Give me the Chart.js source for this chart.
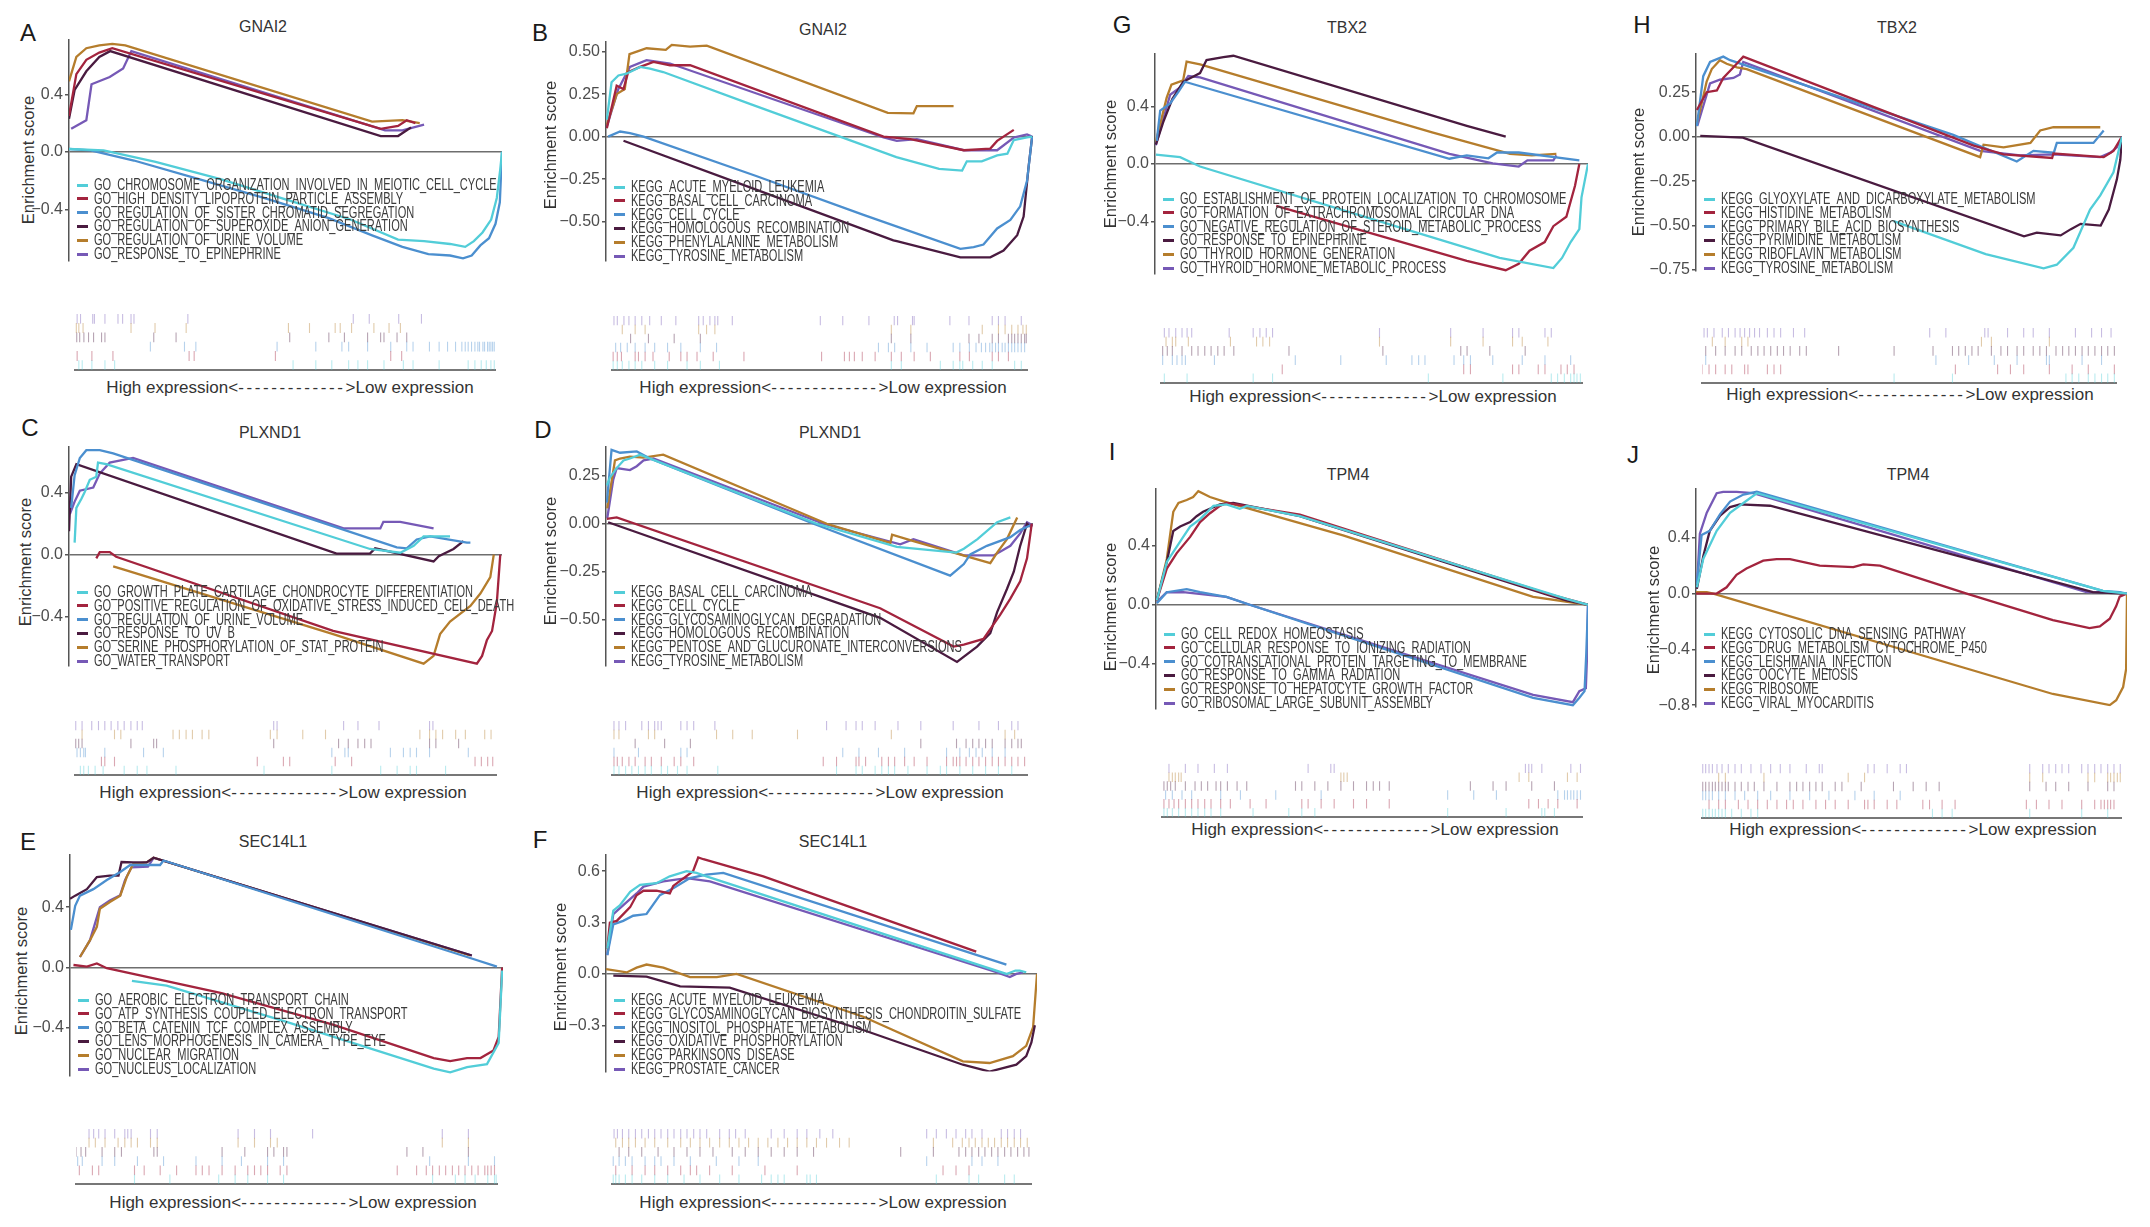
<!DOCTYPE html>
<html>
<head>
<meta charset="utf-8">
<title>GSEA enrichment plots</title>
<script src="https://cdn.jsdelivr.net/npm/chart.js@4.4.0/dist/chart.umd.min.js"></script>
<style>
  body { margin: 0; background: #fff; width: 2150px; height: 1227px; position: relative; overflow: hidden;
         font-family: 'Liberation Sans', Arial, Helvetica, sans-serif; }
  .abs { position: absolute; white-space: nowrap; }
  .letter { font-size: 24px; color: #1a1a1a; transform: translate(-50%, -50%); }
  .gene { font-size: 16px; color: #333; transform: translate(-50%, -50%); }
  .ylab { font-size: 16.5px; color: #333; transform: translate(-50%, -50%) rotate(-90deg); }
  .xlab { font-size: 17px; color: #333; transform: translate(-50%, -50%); }
  .leg-row { position: absolute; left: 0; height: 14px; width: 700px; }
  .leg-mark { position: absolute; left: 0; top: 5.5px; width: 11px; height: 3px; }
  .leg-text { position: absolute; left: 17px; top: 0; font-size: 16px; line-height: 14px; color: #3a3a3a;
              transform: scaleX(0.69); transform-origin: left top; }
</style>
</head>
<body>
<script>
// colours of the six gene sets, in legend order
const setColors = ['#52CDD8', '#A3243E', '#4B8FCF', '#4A1B40', '#B57D2C', '#7659B6'];
const xLabel = 'High expression<------------->Low expression';

// ---------- A: GNAI2, GO ----------
const A_gene = 'GNAI2';
const A_sets = ['GO_CHROMOSOME_ORGANIZATION_INVOLVED_IN_MEIOTIC_CELL_CYCLE', 'GO_HIGH_DENSITY_LIPOPROTEIN_PARTICLE_ASSEMBLY',
  'GO_REGULATION_OF_SISTER_CHROMATID_SEGREGATION', 'GO_REGULATION_OF_SUPEROXIDE_ANION_GENERATION',
  'GO_REGULATION_OF_URINE_VOLUME', 'GO_RESPONSE_TO_EPINEPHRINE'];
const A_yTicks = [-0.4, 0, 0.4];
const A_curves = [
  [[0,0.02],[8,0.01],[20,-0.07],[35,-0.19],[50,-0.33],[65,-0.47],[76,-0.61],[82,-0.62],[88,-0.64],[91.5,-0.66],[93.5,-0.62],[95.5,-0.56],[97.5,-0.47],[98.8,-0.32],[99.6,-0.12],[100,0]],
  [[0,0.25],[1.7,0.54],[4,0.64],[7,0.69],[10,0.72],[72,0.16],[76,0.18],[78,0.22],[80,0.2]],
  [[0,0.02],[5,0.01],[15,-0.06],[30,-0.19],[45,-0.32],[60,-0.46],[70,-0.58],[77,-0.66],[83,-0.71],[88,-0.72],[91,-0.74],[93,-0.72],[95,-0.65],[97,-0.6],[98.5,-0.5],[99.5,-0.35],[100,0]],
  [[0,0.23],[1.3,0.43],[4,0.56],[7,0.66],[9.5,0.7],[72,0.11],[76,0.11],[78,0.15],[79,0.17]],
  [[0,0.49],[1.7,0.66],[4,0.72],[7,0.74],[10,0.75],[13,0.74],[70,0.21],[77,0.22],[81,0.2]],
  [[0.5,0.16],[4,0.22],[5.2,0.47],[9.4,0.52],[12.5,0.58],[14.4,0.7],[73,0.15],[77,0.15],[82,0.19]]
];
const A_hits = [
  [0.9,1.7,4,7.1,9.4,51.8,57.2,61,65,67.2,69.5,73.4,78,80.3,86.5,93.4,95,96.5,97.7,98.8,99.6],
  [0.5,4,9,27.1,28.3,47.6,75,77.6],
  [17.9,26,28.7,48,57.2,63.4,65,69.5,75,78.8,80.3,84.2,86.5,88.5,90.4,91.9,92.7,93.4,94.2,95,95.7,96.1,96.9,97.3,98,98.4,98.8,99.2,99.6],
  [0.4,1.1,2.1,3.2,4.4,6.3,7.1,18.7,24,51,60.3,64,69.5,72.6,73.4,76.5,78.8],
  [0.3,0.9,1.9,13.3,19,26.4,50.7,55.7,61.8,63,65.7,71,74.6,77.3],
  [0.5,1.3,4.2,4.6,7.1,10.2,11.3,13.3,14,26.8,66.1,69.9,76.9,82.3]
];

// ---------- B: GNAI2, KEGG ----------
const B_gene = 'GNAI2';
const B_sets = ['KEGG_ACUTE_MYELOID_LEUKEMIA', 'KEGG_BASAL_CELL_CARCINOMA', 'KEGG_CELL_CYCLE',
  'KEGG_HOMOLOGOUS_RECOMBINATION', 'KEGG_PHENYLALANINE_METABOLISM', 'KEGG_TYROSINE_METABOLISM'];
const B_yTicks = [-0.5, -0.25, 0, 0.25, 0.5];
const B_curves = [
  [[0.2,0.1],[1.3,0.32],[2.9,0.36],[4.8,0.37],[8,0.41],[10.3,0.4],[13.4,0.38],[34,0.19],[54.8,0],[68,-0.12],[78,-0.19],[83.4,-0.2],[84.5,-0.145],[88,-0.145],[91.6,-0.11],[94,-0.1],[95.5,-0.02],[98.6,-0.005],[99.8,0]],
  [[0.2,0.05],[2.5,0.3],[4.1,0.28],[5.2,0.38],[8,0.41],[11.1,0.44],[15,0.42],[19.7,0.42],[65,0],[71.3,-0.015],[83.8,-0.08],[90,-0.07],[91.6,-0.025],[95.5,0.04]],
  [[0.5,0],[3.3,0.03],[5.6,0.02],[8.8,0],[35,-0.23],[60.3,-0.46],[83,-0.66],[86.1,-0.65],[88.4,-0.635],[91.6,-0.54],[94.7,-0.49],[97,-0.41],[98.6,-0.26],[99.8,0]],
  [[4.1,-0.024],[35,-0.31],[67.3,-0.61],[68.1,-0.615],[83,-0.71],[90,-0.71],[93.1,-0.67],[96.3,-0.58],[97.8,-0.47],[99,-0.17],[99.8,0]],
  [[0.2,0.07],[2.5,0.25],[4.4,0.28],[5.5,0.485],[7.2,0.5],[9.5,0.52],[14,0.51],[15.4,0.54],[19.7,0.53],[23.6,0.535],[66,0.14],[72,0.137],[72.8,0.18],[81.4,0.18]],
  [[0.2,0.06],[2.9,0.28],[5.6,0.41],[9.5,0.45],[15,0.43],[65,-0.005],[68.1,-0.025],[72.8,-0.015],[83.8,-0.08],[91.6,-0.08],[95.5,-0.005],[98.6,0.013],[99.8,0]]
];
const B_hits = [
  [0.3,1.3,2.5,4.1,5.6,7.2,10.3,13.4,18.1,21.3,25.9,67.3,69.7,79.1,82.2,83.8,84.5,86.9,89.2,91.6,97,98.6],
  [0.3,1.3,2.3,5.6,6.4,8,9.9,13.8,16.6,18.1,20.5,24.4,31.8,50.5,56,57.2,58.4,60.3,63.4,67.3,69.7,72.8,76.7,83.8,86.1,91.6,93.1,95.5],
  [0.9,2.1,3.7,5.6,8,10.3,13.4,16.6,21.3,25.2,64.2,66.6,68.1,72,75.9,82.2,83.8,86.1,87.7,89,90,91,91.6,92.4,93.1,94,94.7,95.5,96.3,97,97.8,98.6,99.4],
  [4.5,8.8,15,21.3,67.3,72,86,88.4,91.6,93.1,95.5,96.3,97,97.8,98.6,99.4,99.8],
  [2.5,5.6,8,20.9,22.8,24.8,67.3,72,89.2,93.1,94.7,96.3,97.8,99,99.8],
  [0.5,1.3,2.9,4.1,5.6,7.2,9.1,11.9,15.4,20.9,22,23.6,24.8,25.5,29,50.2,55.6,61.9,68,68.8,72.4,72.8,81.4,86,91.6,93.1,94.7,98.6]
];

// ---------- C: PLXND1, GO ----------
const C_gene = 'PLXND1';
const C_sets = ['GO_GROWTH_PLATE_CARTILAGE_CHONDROCYTE_DIFFERENTIATION', 'GO_POSITIVE_REGULATION_OF_OXIDATIVE_STRESS_INDUCED_CELL_DEATH',
  'GO_REGULATION_OF_URINE_VOLUME', 'GO_RESPONSE_TO_UV_B', 'GO_SERINE_PHOSPHORYLATION_OF_STAT_PROTEIN', 'GO_WATER_TRANSPORT'];
const C_yTicks = [-0.4, 0, 0.4];
const C_curves = [
  [[1.3,0.077],[1.7,0.3],[2.9,0.36],[3.6,0.4],[4.8,0.48],[6.3,0.5],[6.7,0.59],[8.6,0.58],[69.5,0.036],[76.5,0.012],[79.6,0.056],[81.9,0.117],[88,0.117]],
  [[6.3,-0.024],[7.1,0.016],[9.4,0.016],[10.9,-0.014],[61,-0.49],[94.2,-0.7],[95.4,-0.65],[96.5,-0.55],[97.7,-0.49],[98.8,-0.31],[99.6,0]],
  [[0.5,0.3],[1.3,0.51],[2.5,0.62],[4,0.67],[7.1,0.67],[10.2,0.65],[75.7,0.046],[78,0.04],[80.3,0.097],[83.4,0.117],[91.9,0.077],[92.7,0.077]],
  [[0,0.15],[0.5,0.5],[1.7,0.58],[61.8,0.006],[69.5,0.006],[70.7,0.04],[84.2,-0.044],[85.4,-0.01],[88.8,0.036],[91.1,0.087]],
  [[10.2,-0.075],[12.5,-0.095],[61,-0.51],[81.9,-0.7],[84.2,-0.65],[85.7,-0.51],[88,-0.43],[92.7,-0.33],[95,-0.25],[97.3,-0.145],[98.1,0]],
  [[0.2,0.26],[1.3,0.34],[2.5,0.41],[5.6,0.43],[7.1,0.52],[9.4,0.59],[14.8,0.62],[63.4,0.168],[71.9,0.168],[72.6,0.21],[76.5,0.21],[84.2,0.168]]
];
const C_hits = [
  [1.3,2.1,3.2,4.8,6.7,11.7,14.8,17.1,24,44.9,61,72.6,76.5,79.6,81.1,88],
  [6.3,7.1,9.4,43.3,49.5,51,61.8,65.7,95,96.5,98,99.2],
  [0.5,1.3,2.1,2.5,7.1,16.3,21,61,64.1,64.9,74.9,78,79.6,81.1,84.2,93.4],
  [0.2,0.9,1.7,13.3,18.7,19.4,47.2,62.6,64.9,67.2,68.8,70.3,84.2,85.7,91.1],
  [1.7,9.4,10.9,23.3,24.8,26.4,27.9,30.2,31.8,46.4,48,54.1,59.5,81.9,84.2,85.7,87.3,90.4,92.7,97.3,98.8],
  [0.2,1.7,4,5.6,7.1,8.6,10.2,11.7,13.3,14.8,16,47.2,48,63.8,67.2,72.2,84.2,85]
];

// ---------- D: PLXND1, KEGG ----------
const D_gene = 'PLXND1';
const D_sets = ['KEGG_BASAL_CELL_CARCINOMA', 'KEGG_CELL_CYCLE', 'KEGG_GLYCOSAMINOGLYCAN_DEGRADATION',
  'KEGG_HOMOLOGOUS_RECOMBINATION', 'KEGG_PENTOSE_AND_GLUCURONATE_INTERCONVERSIONS', 'KEGG_TYROSINE_METABOLISM'];
const D_yTicks = [-0.5, -0.25, 0, 0.25];
const D_curves = [
  [[0.2,0.2],[0.9,0.24],[2.5,0.29],[4.1,0.33],[5.6,0.34],[8,0.36],[49.4,0],[68.1,-0.12],[82,-0.15],[83.8,-0.13],[87,-0.08],[91.6,0.008],[94.7,0.033]],
  [[0.2,0.025],[2.5,0.033],[64.2,-0.44],[81.4,-0.64],[83.8,-0.63],[88.4,-0.6],[92.3,-0.475],[94.7,-0.39],[97,-0.3],[98.6,-0.18],[99.4,-0.05],[99.7,0]],
  [[0.2,0.11],[1.3,0.385],[3.3,0.37],[7.2,0.377],[10.3,0.34],[48.6,0],[80.6,-0.27],[82.2,-0.24],[83.8,-0.21],[85.3,-0.16],[89.2,-0.115],[94.7,-0.07],[97,-0.033],[99.4,-0.008]],
  [[0.5,0.008],[64.2,-0.49],[82.2,-0.72],[86.9,-0.64],[90,-0.57],[91.6,-0.46],[93.9,-0.34],[95.5,-0.25],[97,-0.115],[98.6,0],[99.4,-0.015]],
  [[0.3,0.08],[2.1,0.33],[3.3,0.34],[5.6,0.35],[8.8,0.345],[13.4,0.36],[51.7,0],[66.6,-0.1],[67,-0.057],[72,-0.09],[90,-0.205],[91.6,-0.15],[93.9,-0.08],[96.3,0.033]],
  [[0.3,0.03],[1.7,0.23],[2.5,0.29],[5.6,0.28],[7.2,0.3],[8.8,0.33],[11.1,0.34],[50.9,0],[68.9,-0.107],[72,-0.08],[83.8,-0.165],[90.8,-0.165],[94.7,-0.115],[97,-0.05],[98.6,0.008],[100,-0.01]]
];
const D_hits = [
  [0.5,1.7,3.3,4.8,6.4,8,9.5,11.9,13.4,15.8,18.1,25.5,54.1,58.8,60.3,63.4,65,66.6,68.1,71.3,75.9,79.1,80.6,83.8,86.9,90,93.1,96.3],
  [0.5,1.3,2.5,4.1,5.6,8,9.5,11.9,15,16.6,19.7,50.9,54.1,58.8,59.5,61.1,65,66.6,68.1,70.5,72.8,75.9,80.6,82.2,83,83.8,85.3,86.9,88.4,90,91.6,93.1,94.7,96.3,97.8,99.4],
  [0.5,6.4,16.6,18.1,55.6,59.5,64.2,70.5,80.6,83.8,86.1,87.7,89.2,91.6,94.7],
  [5.6,12.7,18.9,74.4,83,85.3,86.9,88.4,90,91.6,94.7,96.3,97.8,98.6],
  [0.5,1.7,8.8,10.3,25.2,29.1,33.8,44.7,67.3,94.7,97],
  [0.5,1.7,3.3,7.2,8.8,10.3,11.1,11.9,16.6,18.1,19.7,24.8,51.7,56.4,58.8,60.3,63.4,68.9,74.4,82.2,88.4,93.1,96.3,97.8]
];

// ---------- E: SEC14L1, GO ----------
const E_gene = 'SEC14L1';
const E_sets = ['GO_AEROBIC_ELECTRON_TRANSPORT_CHAIN', 'GO_ATP_SYNTHESIS_COUPLED_ELECTRON_TRANSPORT',
  'GO_BETA_CATENIN_TCF_COMPLEX_ASSEMBLY', 'GO_LENS_MORPHOGENESIS_IN_CAMERA_TYPE_EYE', 'GO_NUCLEAR_MIGRATION', 'GO_NUCLEUS_LOCALIZATION'];
const E_yTicks = [-0.4, 0, 0.4];
const E_curves = [
  [[14.3,-0.088],[22.3,-0.12],[50,-0.36],[84,-0.67],[87.8,-0.695],[91.7,-0.66],[96.3,-0.64],[99,-0.5],[99.8,-0.02]],
  [[0.8,0.017],[3.9,0.006],[6.2,0.027],[8.5,-0.004],[35,-0.17],[60.9,-0.38],[84,-0.6],[87.8,-0.62],[91.7,-0.6],[94.8,-0.6],[97.8,-0.55],[99,-0.46],[99.8,0]],
  [[0.2,0.25],[1.2,0.41],[2.3,0.477],[5.4,0.52],[8.5,0.58],[11.6,0.634],[13.9,0.68],[16.9,0.68],[20.8,0.68],[21.6,0.71],[91.7,0.07],[98.6,0.006]],
  [[0,0.456],[1.2,0.477],[3.9,0.52],[6.2,0.6],[9.2,0.61],[11.2,0.61],[11.9,0.7],[14.6,0.697],[17.7,0.697],[19.3,0.728],[91.7,0.09],[92.8,0.08]],
  [[2.3,0.07],[4.6,0.18],[6.2,0.27],[6.9,0.39],[9.2,0.435],[11.6,0.477],[13.1,0.6],[14.6,0.686],[17.7,0.697],[19.3,0.728],[92.4,0.08]],
  [[2.3,0.07],[4.6,0.18],[6.9,0.4],[9.2,0.445],[11.6,0.48],[12.7,0.58],[14.2,0.665],[18,0.67],[19.3,0.728],[92.8,0.08]]
];
const E_hits = [
  [13.9,22.3,33.9,37.8,40.8,45.5,49.3,84.7,90.1,92.4,94.8,97.8,99.4,99.8],
  [0.8,3.9,5.4,13.9,16.2,20,23.9,28.5,30,31.6,34.7,37.8,40.8,42.4,43.9,45.5,48.5,50.1,76.3,80.9,83.2,84.7,86.3,87.8,89.4,90.9,92.4,94,95.5,97.1,97.8,98.6,99.4],
  [0.4,1.5,6.2,9.2,14.6,20.8,28.5,34.7,39.3,45.5,49.3,84,93.2,99.4],
  [0,1.2,2.3,6.2,9.2,10.8,18.5,19.3,34.7,40.1,45.5,47,49.3,50.1,78.6,82.4,93.2],
  [3.1,4.6,6.9,10,11.6,13.1,14.6,17.7,19.3,38.5,42.4,46.2,47.8,87,93.2],
  [3.1,4.2,5.4,6.9,9.2,11.6,12.3,13.1,17.7,19.3,38.5,42.4,46.2,56.2,87,93.2]
];

// ---------- F: SEC14L1, KEGG ----------
const F_gene = 'SEC14L1';
const F_sets = ['KEGG_ACUTE_MYELOID_LEUKEMIA', 'KEGG_GLYCOSAMINOGLYCAN_BIOSYNTHESIS_CHONDROITIN_SULFATE',
  'KEGG_INOSITOL_PHOSPHATE_METABOLISM', 'KEGG_OXIDATIVE_PHOSPHORYLATION', 'KEGG_PARKINSONS_DISEASE', 'KEGG_PROSTATE_CANCER'];
const F_yTicks = [-0.3, 0, 0.3, 0.6];
const F_curves = [
  [[0.3,0.147],[1.7,0.37],[3.2,0.4],[5.6,0.48],[7.9,0.52],[11.7,0.53],[14.8,0.57],[18.7,0.6],[21,0.59],[23.3,0.57],[92.9,0],[95,0.02],[96,0.02],[97.5,0.01]],
  [[0.3,0.147],[0.9,0.3],[2.5,0.31],[5.6,0.39],[7.1,0.46],[8.7,0.486],[11.7,0.486],[14.8,0.47],[15.6,0.514],[20.2,0.6],[21.4,0.68],[22.6,0.67],[36.5,0.57],[85.9,0.13]],
  [[0.3,0.11],[1.7,0.29],[4,0.31],[6.3,0.34],[9.4,0.35],[12.5,0.46],[15.6,0.5],[19.5,0.56],[23.3,0.58],[27.2,0.59],[92.9,0.055]],
  [[1.7,-0.01],[9.4,-0.015],[17.2,-0.073],[28.7,-0.08],[60,-0.33],[82.8,-0.53],[89,-0.57],[95.2,-0.53],[97.5,-0.48],[98.7,-0.4],[99.5,-0.3]],
  [[0,0.028],[4.8,0.009],[7.1,0.037],[9.4,0.055],[13.3,0.037],[19.5,-0.018],[25.7,-0.018],[30.3,0],[59.7,-0.25],[82.8,-0.51],[89,-0.52],[94.4,-0.48],[97.5,-0.42],[99.1,-0.31],[100,0]],
  [[0.3,0.11],[1.7,0.35],[4.8,0.42],[7.1,0.47],[8.7,0.51],[13.3,0.54],[18.7,0.56],[24.1,0.54],[90.6,0.01],[93.7,-0.018],[95.2,0],[96.8,0.009]]
];
const F_hits = [
  [0.3,0.9,1.7,3.2,4.8,7.1,10.2,13.3,17.2,21,25.7,30.3,35.7,38,39.6,41.1,46.5,47.3,48.8,77.4,85.2,87.5,93.7,96],
  [0.9,4.8,7.9,10.2,13.3,16.4,18.7,20.2,23.3,28.7,36.5,44.2,79,82.1,85.2],
  [0.3,1.7,3.2,4.8,7.9,10.2,11.7,14.8,18.7,24.9,30.3,34.9,75.1,85.9,88.3,92.1],
  [1.7,4,7.1,11,14.8,17.9,21,24.1,28.7,31.8,34.9,38,41.1,44.2,48.1,68.9,76.7,82.8,84.4,85.9,87.5,89,90.6,92.1,93.7,95.2,96.8,98.3,99.5],
  [0.9,2.5,4,5.6,7.9,10.2,13.3,16.4,18.7,21,23.3,25.7,28,30.3,32.6,34.9,37.2,39.6,41.9,44.2,46.5,48.8,51.2,54.3,56.6,76.7,81.3,83.6,85.2,86.7,88.3,89.8,91.3,92.9,94.4,96,97.5,99.1],
  [0.5,1.3,2.5,4,5.6,7.1,8.7,10.2,11.7,13.3,14.8,16.4,17.9,19.5,21,22.6,25.7,28,29.5,31.8,38,41.1,44.2,46.5,49.6,52.7,75.1,77.4,79.8,82.1,84.4,85.9,88.3,92.9,94.4,96,97.5]
];

// ---------- G: TBX2, GO ----------
const G_gene = 'TBX2';
const G_sets = ['GO_ESTABLISHMENT_OF_PROTEIN_LOCALIZATION_TO_CHROMOSOME', 'GO_FORMATION_OF_EXTRACHROMOSOMAL_CIRCULAR_DNA',
  'GO_NEGATIVE_REGULATION_OF_STEROID_METABOLIC_PROCESS', 'GO_RESPONSE_TO_EPINEPHRINE', 'GO_THYROID_HORMONE_GENERATION',
  'GO_THYROID_HORMONE_METABOLIC_PROCESS'];
const G_yTicks = [-0.4, 0, 0.4];
const G_curves = [
  [[0.2,0.065],[5.8,0.048],[10.4,-0.017],[50,-0.38],[79.6,-0.65],[92,-0.72],[94,-0.65],[96,-0.54],[98,-0.45],[98.5,-0.23],[100,0]],
  [[28,-0.29],[72,-0.67],[81,-0.735],[84,-0.69],[86.5,-0.6],[90,-0.54],[92,-0.43],[95,-0.365],[97,-0.15],[98,0]],
  [[0.4,0.16],[1.2,0.37],[3.5,0.42],[5.4,0.5],[6.9,0.57],[68,0.037],[72,0.06],[77,0.04],[79,0.08],[84,0.08],[98,0.026]],
  [[0.2,0.135],[1.9,0.29],[4,0.45],[6.5,0.57],[10.4,0.63],[11.9,0.72],[15.8,0.74],[18.1,0.75],[72,0.265],[81,0.19]],
  [[0.2,0.155],[2.7,0.46],[3.8,0.55],[6.5,0.58],[7.3,0.71],[10.4,0.69],[64,0.22],[82,0.07],[87,0.06],[92.7,0.07]],
  [[0.2,0.13],[3.5,0.48],[5.8,0.53],[7.7,0.61],[10.4,0.6],[68,0.07],[78,0.005],[84,-0.017],[86,0.026],[92,0.026],[92.7,0.06]]
];
const G_hits = [
  [0.8,6.2,21.9,26.5,63.5,81.2,92.7,94.2,95.8,97.3,98.1,98.8,99.6],
  [28.8,71.9,73.5,83.5,85,89.6,91.2,95,96.5,98.1],
  [0.4,2.7,3.8,5,5.8,12.7,31.9,42.7,53.5,59.6,61.2,62.7,69.6,71.9,73.5,78.8,85.8,91.2,97.3],
  [0.4,1.5,2.7,5,7.3,8.8,10.4,11.9,13.5,15,17.3,30.4,52.7,71.2,72.7,78.1,86.5],
  [1.2,2.7,3.5,6.5,16.5,22.7,24.2,25.8,51.9,68.8,76.5,83.5,85.8,91.9],
  [0.8,1.9,3.5,5,6.2,7.3,16.2,21.9,23.5,25,26.5,51.9,68.8,76.5,83.5,85,91.2,92.7]
];

// ---------- H: TBX2, KEGG ----------
const H_gene = 'TBX2';
const H_sets = ['KEGG_GLYOXYLATE_AND_DICARBOXYLATE_METABOLISM', 'KEGG_HISTIDINE_METABOLISM', 'KEGG_PRIMARY_BILE_ACID_BIOSYNTHESIS',
  'KEGG_PYRIMIDINE_METABOLISM', 'KEGG_RIBOFLAVIN_METABOLISM', 'KEGG_TYROSINE_METABOLISM'];
const H_yTicks = [-0.75, -0.5, -0.25, 0, 0.25];
const H_curves = [
  [[46.4,-0.475],[68,-0.66],[81.6,-0.74],[84.7,-0.72],[88.6,-0.625],[92.5,-0.41],[94.9,-0.33],[98,-0.2],[99.2,-0.08],[100,0]],
  [[0.2,0.15],[2.5,0.25],[4.9,0.26],[6.4,0.33],[8.8,0.39],[11.1,0.45],[65.2,-0.05],[72.2,-0.1],[83.6,-0.12],[83.9,-0.095],[95.7,-0.115],[98,-0.08],[100,0]],
  [[0.2,0.06],[1.7,0.34],[3.3,0.42],[6.4,0.45],[8,0.43],[60.4,0.01],[75.3,-0.14],[79.2,-0.08],[84,-0.09],[84.7,-0.035],[93.3,-0.035],[95.7,0.035]],
  [[1,0.004],[11,-0.005],[77,-0.56],[80,-0.54],[85.6,-0.555],[88,-0.52],[90.3,-0.49],[95,-0.5],[96.9,-0.41],[98.8,-0.24],[99.6,-0.13],[100,0]],
  [[0.3,0.08],[2.5,0.31],[3.7,0.38],[5.6,0.43],[7.2,0.41],[9.6,0.39],[11.9,0.38],[66.7,-0.115],[67.5,-0.045],[72.2,-0.06],[78.5,-0.035],[80.8,0.035],[83.9,0.053],[94.9,0.053]],
  [[0.3,0.06],[3.3,0.3],[5.6,0.32],[8.8,0.33],[10.3,0.35],[11.1,0.42],[66.7,-0.08],[76.1,-0.105],[83.9,-0.1],[94.9,-0.115],[97.3,-0.09],[98.8,-0.06],[100,0]]
];
const H_hits = [
  [46.4,60.5,87.9,89.4,91,93.3,94.9,96.5,98,99.6],
  [0,1.7,3.3,5.6,7.2,10.3,11.1,15.8,17.4,19,61.2,71.4,74.5,77.7,83.9,89.4,93.3,99.6],
  [0.9,56.5,64.4,70.6,76.1,83.2,83.9,91.8,96.5],
  [0.9,3.3,5.6,8,9.6,11.9,13.5,15,16.6,18.2,19.7,21.3,23.6,25.2,33,46.4,55.8,60.5,62,63.6,65.2,66.7,69.9,72.2,73.8,76.1,77.7,80,81.6,83.2,85.5,87.1,88.6,90.2,91.8,93.3,94.9,96.5,98,99.6],
  [2.5,5.6,9.6,11.1,67.5,69.9,83.9],
  [0.5,1.3,2.9,4.9,6.4,8,9.2,10.3,11.5,12.7,13.9,15.8,17.4,19,22.1,24.8,55,58.9,68.3,69.1,73.8,77.7,80,83.9,90.2,94.1,96.5,98.8]
];

// ---------- I: TPM4, GO ----------
const I_gene = 'TPM4';
const I_sets = ['GO_CELL_REDOX_HOMEOSTASIS', 'GO_CELLULAR_RESPONSE_TO_IONIZING_RADIATION', 'GO_COTRANSLATIONAL_PROTEIN_TARGETING_TO_MEMBRANE',
  'GO_RESPONSE_TO_GAMMA_RADIATION', 'GO_RESPONSE_TO_HEPATOCYTE_GROWTH_FACTOR', 'GO_RIBOSOMAL_LARGE_SUBUNIT_ASSEMBLY'];
const I_yTicks = [-0.4, 0, 0.4];
const I_curves = [
  [[0.2,0.03],[2.5,0.29],[6.3,0.46],[7.9,0.53],[10.2,0.58],[13.3,0.67],[16.3,0.68],[19.4,0.65],[21,0.67],[33.3,0.6],[95,0.04],[100,0]],
  [[0.2,0.03],[2.5,0.245],[4.8,0.35],[7.9,0.46],[10.2,0.56],[12.5,0.62],[14.8,0.67],[16.3,0.69],[33.3,0.61],[91.1,0.07],[95,0.04],[100,0]],
  [[0.2,0.01],[2.5,0.085],[7.1,0.106],[10.2,0.085],[16.3,0.053],[21.7,0],[87.3,-0.63],[96.5,-0.68],[98,-0.63],[99.2,-0.585],[99.6,-0.33],[100,0]],
  [[0.2,0.03],[2.5,0.29],[4,0.5],[5.6,0.53],[7.9,0.56],[9.4,0.6],[10.9,0.63],[14.8,0.68],[17.9,0.69],[33.3,0.6],[91.1,0.064],[95,0.03],[100,0]],
  [[0.2,0.03],[2.5,0.31],[4,0.63],[5.2,0.69],[7.1,0.71],[8.6,0.73],[9.8,0.77],[12.5,0.73],[15.6,0.7],[43.3,0.47],[87.3,0.053],[100,0]],
  [[0.2,0.02],[2.5,0.085],[6.3,0.085],[16.3,0.053],[21.7,0],[87.3,-0.61],[96.5,-0.66],[98,-0.585],[99.5,-0.565],[99.8,-0.33],[100,0]]
];
const I_hits = [
  [0.5,1.3,2.5,4,5.6,7.1,8.6,10.2,11.7,14,21.7,30.2,33.3,36.4,68,81.9,90.4,91.1,93.4],
  [0.5,1.7,2.9,4,5.6,7.1,8.6,10.2,11.7,14,16.3,21,24.8,33.3,34.8,37.9,41,45.6,48.7,54.1,87.3,89.6,91.9,94.2,98.8],
  [0.9,2.5,4.8,7.1,14,18.7,27.1,37.9,68,74.2,79.6,94.2,95.8,96.5,97.3,98,98.8,99.6],
  [0.5,1.3,2.1,3.2,5.6,7.9,9.4,10.9,12.9,14,15.6,17.9,20.2,31.8,33.3,36.4,39.5,42.6,45.6,48.7,50.3,51.8,54.1,73.4,78.8,81.9,88,93.4],
  [1.7,2.5,3.2,4,4.6,42.6,43.3,44.1,85,87.3,96.5,98.8],
  [1.7,5.6,8.6,12.5,15.6,34.8,40.2,41,86.5,87.3,88,90.4,97.3,99.6]
];

// ---------- J: TPM4, KEGG ----------
const J_gene = 'TPM4';
const J_sets = ['KEGG_CYTOSOLIC_DNA_SENSING_PATHWAY', 'KEGG_DRUG_METABOLISM_CYTOCHROME_P450', 'KEGG_LEISHMANIA_INFECTION',
  'KEGG_OOCYTE_MEIOSIS', 'KEGG_RIBOSOME', 'KEGG_VIRAL_MYOCARDITIS'];
const J_yTicks = [-0.8, -0.4, 0, 0.4];
const J_curves = [
  [[0.2,0.045],[1.7,0.25],[4.8,0.45],[7.9,0.58],[11,0.65],[14.1,0.72],[94.4,0.02],[100,0]],
  [[0,0],[4.8,0],[7.1,0.045],[9.4,0.135],[11.7,0.18],[15.6,0.236],[18.7,0.247],[21.8,0.247],[28.7,0.2],[36.5,0.19],[38.8,0.21],[42.7,0.2],[62.8,0],[82.8,-0.19],[91.3,-0.247],[93.7,-0.236],[96,-0.18],[97.5,-0.09],[98.3,-0.022],[100,0]],
  [[0.2,0.07],[1.3,0.42],[3.2,0.45],[5.6,0.57],[7.9,0.66],[11,0.71],[14.1,0.73],[94.4,0.02],[98.3,0.01],[100,0]],
  [[0.2,0.034],[1.7,0.27],[3.2,0.45],[5.6,0.56],[7.9,0.62],[10.2,0.64],[17.2,0.63],[92.1,0.01],[99.1,0]],
  [[0,0.011],[2.5,0.011],[4,0],[82.8,-0.72],[96,-0.8],[97.5,-0.765],[99.1,-0.67],[99.8,-0.54],[100,0]],
  [[0.2,0.045],[0.9,0.43],[2.5,0.58],[4.8,0.72],[6.3,0.73],[9.4,0.73],[13.3,0.72],[90.6,0.01],[96.8,0.01],[100,0]]
];
const J_hits = [
  [0.2,0.9,1.7,2.5,3.2,4,4.8,5.6,7.1,9.4,11.7,13.3,55,57.3,59.7,78.2,90.6,96.8],
  [1.7,4,5.6,8.7,11,13.3,15.6,17.9,20.2,21.8,24.1,27.2,29.5,31.8,34.9,38.8,39.6,41.1,44.2,46.5,52.7,54.3,57.3,60.4,77.4,79.8,82.8,85.9,90.6,93.7,95.2,96,96.8,97.5,98.3],
  [0.2,0.9,1.7,2.5,4,5.6,7.9,10.2,13.3,16.4,21,25.7,30.3,36.5,41.1,47.3],
  [0.2,0.9,1.7,2.5,3.2,4,4.8,5.6,6.3,7.9,9.4,11,12.5,14.8,17.9,21,22.6,24.1,25.7,27.2,28.7,31.8,33.4,38,45.7,50.4,53.5,56.6,78.2,82.1,84.4,87.5,92.1,96.8,98.3],
  [4,5.6,14.8,34.9,38.8,78.2,81.3,92.1,93.7,96.8,97.5,98.3,99.1,99.8],
  [0.2,0.9,1.7,2.5,3.6,4.8,6.3,7.9,9.4,11.7,14.1,16.4,18.7,21,24.9,28,28.7,39.6,41.1,44.2,47.3,48.8,78.2,81.3,82.8,84.4,85.9,87.5,90.6,92.1,93.7,95.2,96.8,98.3,99.8]
];

// ---------- page layout (pixel positions of each panel) ----------
const panels = [
  { id: 'A', gene: A_gene, sets: A_sets, curves: A_curves, hits: A_hits, ticks: A_yTicks, dec: 1, ymin: -0.754, ymax: 0.78,
    ax: 69, top: 33, right: 502, bottom: 267, letter: [28, 33], title: [263, 27], bar: [308, 374], xlab: [290, 388], ylab: [28, 160] },
  { id: 'B', gene: B_gene, sets: B_sets, curves: B_curves, hits: B_hits, ticks: B_yTicks, dec: 2, ymin: -0.728, ymax: 0.559,
    ax: 606, top: 35, right: 1033, bottom: 267, letter: [540, 33], title: [823, 30], bar: [310, 374], xlab: [823, 388], ylab: [550, 145] },
  { id: 'C', gene: C_gene, sets: C_sets, curves: C_curves, hits: C_hits, ticks: C_yTicks, dec: 1, ymin: -0.711, ymax: 0.693,
    ax: 69, top: 440, right: 502, bottom: 672, letter: [30, 428], title: [270, 433], bar: [715, 779], xlab: [283, 793], ylab: [25, 562] },
  { id: 'D', gene: D_gene, sets: D_sets, curves: D_curves, hits: D_hits, ticks: D_yTicks, dec: 2, ymin: -0.738, ymax: 0.402,
    ax: 606, top: 440, right: 1033, bottom: 672, letter: [543, 430], title: [830, 433], bar: [715, 779], xlab: [820, 793], ylab: [550, 561] },
  { id: 'E', gene: E_gene, sets: E_sets, curves: E_curves, hits: E_hits, ticks: E_yTicks, dec: 1, ymin: -0.715, ymax: 0.749,
    ax: 70, top: 848, right: 503, bottom: 1082, letter: [28, 842], title: [273, 842], bar: [1123, 1188], xlab: [293, 1203], ylab: [21, 971] },
  { id: 'F', gene: F_gene, sets: F_sets, curves: F_curves, hits: F_hits, ticks: F_yTicks, dec: 1, ymin: -0.569, ymax: 0.697,
    ax: 606, top: 848, right: 1037, bottom: 1078, letter: [540, 840], title: [833, 842], bar: [1123, 1188], xlab: [823, 1203], ylab: [560, 967] },
  { id: 'G', gene: G_gene, sets: G_sets, curves: G_curves, hits: G_hits, ticks: G_yTicks, dec: 1, ymin: -0.757, ymax: 0.765,
    ax: 1155, top: 47, right: 1588, bottom: 280, letter: [1122, 25], title: [1347, 28], bar: [322, 387], xlab: [1373, 397], ylab: [1110, 164] },
  { id: 'H', gene: H_gene, sets: H_sets, curves: H_curves, hits: H_hits, ticks: H_yTicks, dec: 2, ymin: -0.752, ymax: 0.467,
    ax: 1696, top: 47, right: 2122, bottom: 277, letter: [1642, 25], title: [1897, 28], bar: [322, 387], xlab: [1910, 395], ylab: [1638, 172] },
  { id: 'I', gene: I_gene, sets: I_sets, curves: I_curves, hits: I_hits, ticks: I_yTicks, dec: 1, ymin: -0.702, ymax: 0.787,
    ax: 1156, top: 482, right: 1588, bottom: 715, letter: [1112, 452], title: [1348, 475], bar: [758, 821], xlab: [1375, 830], ylab: [1110, 607] },
  { id: 'J', gene: J_gene, sets: J_sets, curves: J_curves, hits: J_hits, ticks: J_yTicks, dec: 1, ymin: -0.809, ymax: 0.753,
    ax: 1696, top: 482, right: 2127, bottom: 713, letter: [1633, 455], title: [1908, 475], bar: [758, 822], xlab: [1913, 830], ylab: [1653, 610] }
];

Chart.defaults.font.family = "'Liberation Sans', Arial, Helvetica, sans-serif";
Chart.defaults.animation = false;

const PADL = 72;   // room left of the y axis for tick labels
const PAD = 5;

function fmtTick(v, dec) {
  const s = Math.abs(v).toFixed(dec);
  return v < -1e-9 ? '\u2212' + s : s;
}

function fade(hex, a) {
  const n = parseInt(hex.slice(1), 16);
  return `rgba(${(n >> 16) & 255},${(n >> 8) & 255},${n & 255},${a})`;
}

function addText(cls, x, y, text) {
  const d = document.createElement('div');
  d.className = 'abs ' + cls;
  d.style.left = x + 'px';
  d.style.top = y + 'px';
  d.textContent = text;
  document.body.appendChild(d);
  return d;
}

function addBox(left, top, width, height) {
  const d = document.createElement('div');
  d.style.cssText = `position:absolute;left:${left}px;top:${top}px;width:${width}px;height:${height}px;`;
  const cv = document.createElement('canvas');
  d.appendChild(cv);
  document.body.appendChild(d);
  return cv;
}

function buildPanel(p) {
  addText('letter', p.letter[0], p.letter[1], p.id);
  addText('gene', p.title[0], p.title[1], p.gene);
  addText('ylab', p.ylab[0], p.ylab[1], 'Enrichment score');
  const xl = addText('xlab', p.xlab[0], p.xlab[1], '');
  xl.innerHTML = xLabel.replace('<', '&lt;').replace(/-+/, m => `<span style="letter-spacing:2.6px">${m}</span>`);

  // running enrichment score curves
  const cv = addBox(p.ax - PADL, p.top - PAD, p.right - p.ax + PADL + PAD, p.bottom - p.top + 2 * PAD);
  new Chart(cv, {
    type: 'line',
    data: {
      datasets: p.curves.map((c, i) => ({
        label: p.sets[i],
        data: c,
        borderColor: setColors[i],
        borderWidth: 2.3,
        pointRadius: 0,
        tension: 0,
        fill: false
      }))
    },
    options: {
      responsive: true,
      maintainAspectRatio: false,
      layout: { padding: { left: 0, right: PAD, top: PAD, bottom: PAD } },
      plugins: { legend: { display: false }, tooltip: { enabled: false } },
      scales: {
        x: { type: 'linear', min: 0, max: 100, display: false },
        y: {
          min: p.ymin,
          max: p.ymax,
          afterFit: s => { s.width = PADL; },
          afterBuildTicks: s => { s.ticks = p.ticks.map(v => ({ value: v })); },
          ticks: { font: { size: 16 }, color: '#4d4d4d', padding: 2, callback: v => fmtTick(v, p.dec) },
          grid: {
            color: c => (c.tick && Math.abs(c.tick.value) < 1e-9) ? '#6e6e6e' : 'rgba(0,0,0,0)',
            lineWidth: 1.5,
            drawTicks: true,
            tickLength: 4,
            tickColor: '#555'
          },
          border: { display: true, color: '#555', width: 1.5 }
        }
      }
    }
  });

  // legend inside the plot
  const leg = document.createElement('div');
  leg.style.cssText = `position:absolute;left:${p.ax + 8}px;top:${p.top + 152 - 7}px;`;
  p.sets.forEach((s, i) => {
    const row = document.createElement('div');
    row.className = 'leg-row';
    row.style.top = (i * 13.8) + 'px';
    const mk = document.createElement('span');
    mk.className = 'leg-mark';
    mk.style.background = setColors[i];
    const tx = document.createElement('span');
    tx.className = 'leg-text';
    tx.textContent = s;
    row.appendChild(mk);
    row.appendChild(tx);
    leg.appendChild(row);
  });
  document.body.appendChild(leg);

  // hit barcode, one row per gene set (first set at the bottom)
  const barH = p.bar[1] - p.bar[0];
  const rowH = barH / 6;
  const cv2 = addBox(p.ax, p.bar[0], p.right - p.ax, barH + 2);
  new Chart(cv2, {
    type: 'scatter',
    data: {
      datasets: p.hits.map((h, i) => ({
        label: p.sets[i],
        data: h.map(x => ({ x: x, y: i })),
        pointStyle: 'line',
        pointRotation: 90,
        pointRadius: rowH * 0.45,
        pointBorderWidth: 1.1,
        pointBorderColor: fade(setColors[i], 0.4),
        pointBackgroundColor: fade(setColors[i], 0.4)
      }))
    },
    options: {
      responsive: true,
      maintainAspectRatio: false,
      layout: { padding: { left: 0, right: 0, top: 0, bottom: 2 } },
      plugins: { legend: { display: false }, tooltip: { enabled: false } },
      scales: {
        x: {
          type: 'linear', min: 0, max: 100,
          ticks: { display: false },
          grid: { display: false, drawTicks: false },
          border: { display: true, color: '#777', width: 2 }
        },
        y: { min: -0.5, max: 5.5, display: false }
      }
    }
  });
}

panels.forEach(buildPanel);
</script>
</body>
</html>
